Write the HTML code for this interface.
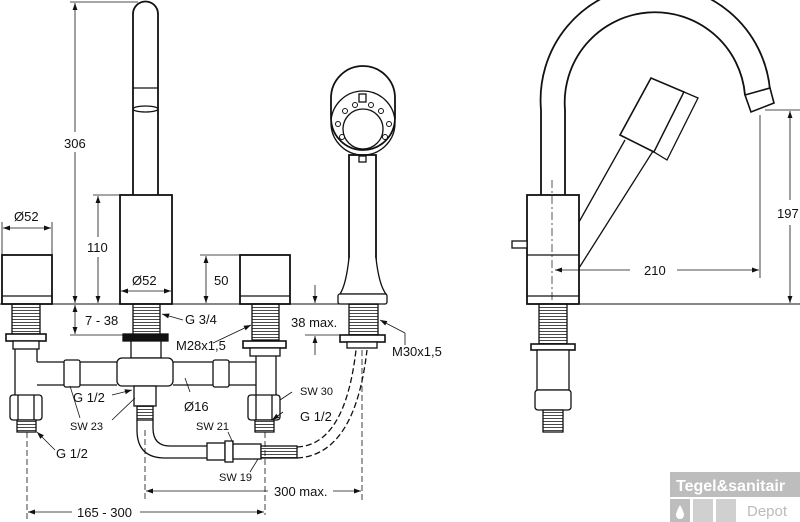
<!DOCTYPE html>
<html><head><meta charset="utf-8"><style>
html,body{margin:0;padding:0;background:#fff;}
svg{display:block;font-family:"Liberation Sans",sans-serif;}
text{font-size:13px;fill:#111;}
</style></head><body>
<svg width="800" height="522" viewBox="0 0 800 522" xmlns="http://www.w3.org/2000/svg">
<defs>
<marker id="a" viewBox="0 0 10 10" refX="10" refY="5" markerWidth="9" markerHeight="9" orient="auto-start-reverse"><path d="M0,1.5 L10,5 L0,8.5z" fill="#111"/></marker>
<pattern id="th" width="4" height="3" patternUnits="userSpaceOnUse"><rect width="4" height="3" fill="#fff"/><line x1="0" y1="1.5" x2="4" y2="1.5" stroke="#333" stroke-width="0.9"/></pattern>
</defs>
<g stroke="#111" fill="none" stroke-width="1.3">
<line x1="0" y1="304" x2="385" y2="304" stroke-width="1"/>
<line x1="580" y1="304" x2="800" y2="304" stroke-width="1"/>
<rect x="2" y="255" width="50" height="49" fill="#fff" stroke-width="1.8"/>
<line x1="2" y1="296" x2="52" y2="296"/>
<line x1="2" y1="222" x2="2" y2="255" stroke-width="0.8"/><line x1="52" y1="222" x2="52" y2="255" stroke-width="0.8"/>
<line x1="3" y1="228" x2="51" y2="228" stroke-width="0.8" marker-start="url(#a)" marker-end="url(#a)"/>
<path d="M133,195 V14 A12.5,12.5 0 0 1 158,14 V195" stroke-width="1.8" fill="#fff"/>
<line x1="133" y1="88" x2="158" y2="88"/><ellipse cx="145.5" cy="109" rx="12.5" ry="3"/>
<rect x="120" y="195" width="52" height="109" fill="#fff" stroke-width="1.8"/>
<line x1="70" y1="2" x2="138" y2="2" stroke-width="0.8"/>
<line x1="75" y1="3" x2="75" y2="132" stroke-width="0.8" marker-start="url(#a)"/>
<line x1="75" y1="152" x2="75" y2="303" stroke-width="0.8" marker-end="url(#a)"/>
<line x1="93" y1="195" x2="120" y2="195" stroke-width="0.8"/>
<line x1="98" y1="196" x2="98" y2="237" stroke-width="0.8" marker-start="url(#a)"/>
<line x1="98" y1="257" x2="98" y2="303" stroke-width="0.8" marker-end="url(#a)"/>
<line x1="121" y1="291" x2="171" y2="291" stroke-width="0.8" marker-start="url(#a)" marker-end="url(#a)"/>
<rect x="240" y="255" width="50" height="49" fill="#fff" stroke-width="1.8"/>
<line x1="240" y1="296" x2="290" y2="296"/>
<line x1="200" y1="255" x2="240" y2="255" stroke-width="0.8"/>
<line x1="206" y1="256" x2="206" y2="303" stroke-width="0.8" marker-start="url(#a)" marker-end="url(#a)"/>
<rect x="349" y="155" width="27" height="105" fill="#fff" stroke-width="1.8"/>
<path d="M349,258 Q346,285 340,294 H386 Q379,285 376,258" fill="#fff"/>
<rect x="338" y="294" width="49" height="10" rx="2" fill="#fff"/>
<path d="M331,118 V98 A32,32 0 0 1 395,98 V118 A32,32 0 0 1 331,118z" fill="#fff" stroke-width="1.8"/>
<circle cx="363" cy="123" r="32"/><circle cx="363" cy="129" r="20"/>
<g fill="#fff" stroke-width="1"><circle cx="345" cy="111" r="2.5"/><circle cx="355" cy="105" r="2.5"/><circle cx="371" cy="105" r="2.5"/><circle cx="381" cy="111" r="2.5"/><circle cx="338" cy="124" r="2.5"/><circle cx="389" cy="124" r="2.5"/><circle cx="342" cy="137" r="2.5"/><circle cx="385" cy="137" r="2.5"/></g>
<rect x="359" y="94" width="7" height="8"/><rect x="359" y="156" width="7" height="6"/>
<rect x="12" y="304" width="28" height="30" fill="url(#th)"/>
<rect x="6" y="334" width="40" height="7" fill="#fff" stroke-width="1.6"/>
<rect x="13" y="341" width="26" height="8" fill="#fff"/>
<path d="M15,349 V395 M37,349 V362" />
<rect x="10" y="395" width="32" height="25" rx="3" fill="#fff"/>
<line x1="18" y1="395" x2="18" y2="420"/><line x1="34" y1="395" x2="34" y2="420"/>
<rect x="17" y="420" width="19" height="12" fill="url(#th)"/>
<rect x="133" y="304" width="27" height="31" fill="url(#th)"/>
<rect x="123" y="334" width="45" height="7" fill="#111"/>
<rect x="131" y="341" width="30" height="17" fill="#fff"/>
<rect x="117" y="358" width="56" height="28" rx="5" fill="#fff"/>
<rect x="252" y="304" width="27" height="36" fill="url(#th)"/>
<rect x="243" y="341" width="43" height="7" fill="#fff" stroke-width="1.6"/>
<rect x="250" y="348" width="30" height="8" fill="#fff"/>
<path d="M256,356 V395 M276,356 V395"/>
<rect x="248" y="395" width="32" height="25" rx="3" fill="#fff"/>
<line x1="256" y1="395" x2="256" y2="420"/><line x1="272" y1="395" x2="272" y2="420"/>
<rect x="255" y="420" width="19" height="12" fill="url(#th)"/>
<rect x="349" y="304" width="29" height="31" fill="url(#th)"/>
<rect x="340" y="335" width="45" height="7" fill="#fff" stroke-width="1.6"/>
<rect x="347" y="342" width="30" height="6" fill="#fff"/>
<path d="M37,362 H117 M37,385 H117 M173,362 H256 M173,385 H256" />
<rect x="64" y="360" width="16" height="27" rx="2" fill="#fff"/>
<rect x="213" y="360" width="16" height="27" rx="2" fill="#fff"/>
<rect x="134" y="386" width="22" height="20" fill="#fff"/>
<rect x="137" y="406" width="16" height="14" fill="url(#th)"/>
<path d="M137,420 V430 Q137,458 165,458 H207 M153,420 V428 Q153,446 170,446 H207"/>
<rect x="207" y="443" width="18" height="17" fill="#fff"/><rect x="225" y="441" width="8" height="21" fill="#fff"/><rect x="233" y="444" width="28" height="15" fill="#fff"/>
<rect x="261" y="446" width="36" height="12" fill="url(#th)"/>
<path d="M297,458 Q355,455 367,350 M297,447 Q345,445 356,350" stroke-dasharray="6,3"/>
<line x1="70" y1="335" x2="130" y2="335" stroke-width="0.8"/>
<line x1="75" y1="305" x2="75" y2="334" stroke-width="0.8" marker-start="url(#a)" marker-end="url(#a)"/>
<line x1="315" y1="285" x2="315" y2="303" stroke-width="0.8" marker-end="url(#a)"/>
<line x1="315" y1="355" x2="315" y2="336" stroke-width="0.8" marker-end="url(#a)"/>
<line x1="305" y1="335" x2="340" y2="335" stroke-width="0.8"/>
<path d="M27,432 V522 M265,432 V515 M145,430 V500 M362,350 V500" stroke-width="0.8" stroke-dasharray="6,3"/>
<line x1="28" y1="512" x2="72" y2="512" stroke-width="0.8" marker-start="url(#a)"/>
<line x1="140" y1="512" x2="264" y2="512" stroke-width="0.8" marker-end="url(#a)"/>
<line x1="146" y1="491" x2="268" y2="491" stroke-width="0.8" marker-start="url(#a)"/>
<line x1="333" y1="491" x2="361" y2="491" stroke-width="0.8" marker-end="url(#a)"/>
<g stroke-width="0.8">
<line x1="183" y1="320" x2="162" y2="314" marker-end="url(#a)"/>
<line x1="213" y1="343" x2="251" y2="325" marker-end="url(#a)"/>
<line x1="405" y1="333" x2="380" y2="320" marker-end="url(#a)"/><line x1="405" y1="333" x2="405" y2="345"/>
<line x1="112" y1="395" x2="132" y2="390" marker-end="url(#a)"/>
<line x1="70" y1="386" x2="80" y2="418"/>
<line x1="112" y1="420" x2="135" y2="398"/>
<line x1="190" y1="392" x2="185" y2="378"/>
<line x1="292" y1="392" x2="280" y2="400"/>
<line x1="283" y1="412" x2="272" y2="420" marker-end="url(#a)"/>
<line x1="55" y1="450" x2="37" y2="432" marker-end="url(#a)"/>
<line x1="228" y1="432" x2="233" y2="443"/>
<line x1="250" y1="472" x2="258" y2="459"/>
</g>
<!-- right view -->
<path d="M541,195 V110 A108,108 0 0 1 770,90 M565,195 V110 A85,85 0 0 1 745,95" stroke-width="1.8"/>
<path d="M745,95 L770,88 L774,103 L751,112 Z" fill="#fff" stroke-width="1.6"/>
<line x1="765" y1="110" x2="800" y2="110" stroke-width="0.8"/>
<rect x="527" y="195" width="52" height="109" fill="#fff" stroke-width="1.8"/>
<line x1="527" y1="255" x2="579" y2="255"/><line x1="527" y1="296" x2="579" y2="296"/>
<rect x="512" y="241" width="15" height="7" fill="#fff"/>
<line x1="552" y1="180" x2="552" y2="310" stroke-width="0.7" stroke-dasharray="8,3,2,3"/>
<path d="M579,222 L625,140 M579,268 L655,148" />
<path d="M620,135 L651,78 L684,92 L654,152 Z" fill="#fff" stroke-width="1.6"/>
<path d="M684,92 L698,98 L667,160 L654,152 Z" fill="#fff"/>
<line x1="760" y1="115" x2="760" y2="278" stroke-width="0.8"/>
<line x1="555" y1="270" x2="630" y2="270" stroke-width="0.8" marker-start="url(#a)"/>
<line x1="677" y1="270" x2="759" y2="270" stroke-width="0.8" marker-end="url(#a)"/>
<line x1="790" y1="111" x2="790" y2="200" stroke-width="0.8" marker-start="url(#a)"/>
<line x1="790" y1="225" x2="790" y2="303" stroke-width="0.8" marker-end="url(#a)"/>
<rect x="539" y="304" width="28" height="40" fill="url(#th)"/>
<rect x="531" y="344" width="44" height="6" fill="#fff" stroke-width="1.6"/>
<rect x="537" y="350" width="32" height="40" fill="#fff"/>
<rect x="535" y="390" width="36" height="20" rx="3" fill="#fff"/>
<rect x="543" y="410" width="20" height="22" fill="url(#th)"/>
</g>
<text x="14" y="221">Ø52</text>
<text x="64" y="148">306</text>
<text x="87" y="252">110</text>
<text x="132" y="285">Ø52</text>
<text x="214" y="285">50</text>
<text x="85" y="325">7 - 38</text>
<text x="185" y="324">G 3/4</text>
<text x="176" y="350">M28x1,5</text>
<text x="291" y="327">38 max.</text>
<text x="392" y="356">M30x1,5</text>
<text x="73" y="402">G 1/2</text>
<text x="70" y="430" style="font-size:11px">SW 23</text>
<text x="184" y="411">Ø16</text>
<text x="300" y="395" style="font-size:11px">SW 30</text>
<text x="300" y="421">G 1/2</text>
<text x="196" y="430" style="font-size:11px">SW 21</text>
<text x="219" y="481" style="font-size:11px">SW 19</text>
<text x="56" y="458">G 1/2</text>
<text x="274" y="496">300 max.</text>
<text x="77" y="517">165 - 300</text>
<text x="644" y="275">210</text>
<text x="777" y="218">197</text>
<rect x="670" y="472" width="130" height="25" fill="#bdbdbd"/>
<text x="676" y="491" style="fill:#fff;font-weight:bold;font-size:16px">Tegel&amp;sanitair</text>
<rect x="670" y="499" width="20" height="23" fill="#bdbdbd"/>
<rect x="693" y="499" width="20" height="23" fill="#d0d0d0"/>
<rect x="716" y="499" width="20" height="23" fill="#d0d0d0"/>
<path d="M680,505 Q676,512 676,515 A4,4 0 0 0 684,515 Q684,512 680,505z" fill="#fff"/>
<text x="747" y="516" style="fill:#bbb;font-size:15px">Depot</text>
</svg>
</body></html>
